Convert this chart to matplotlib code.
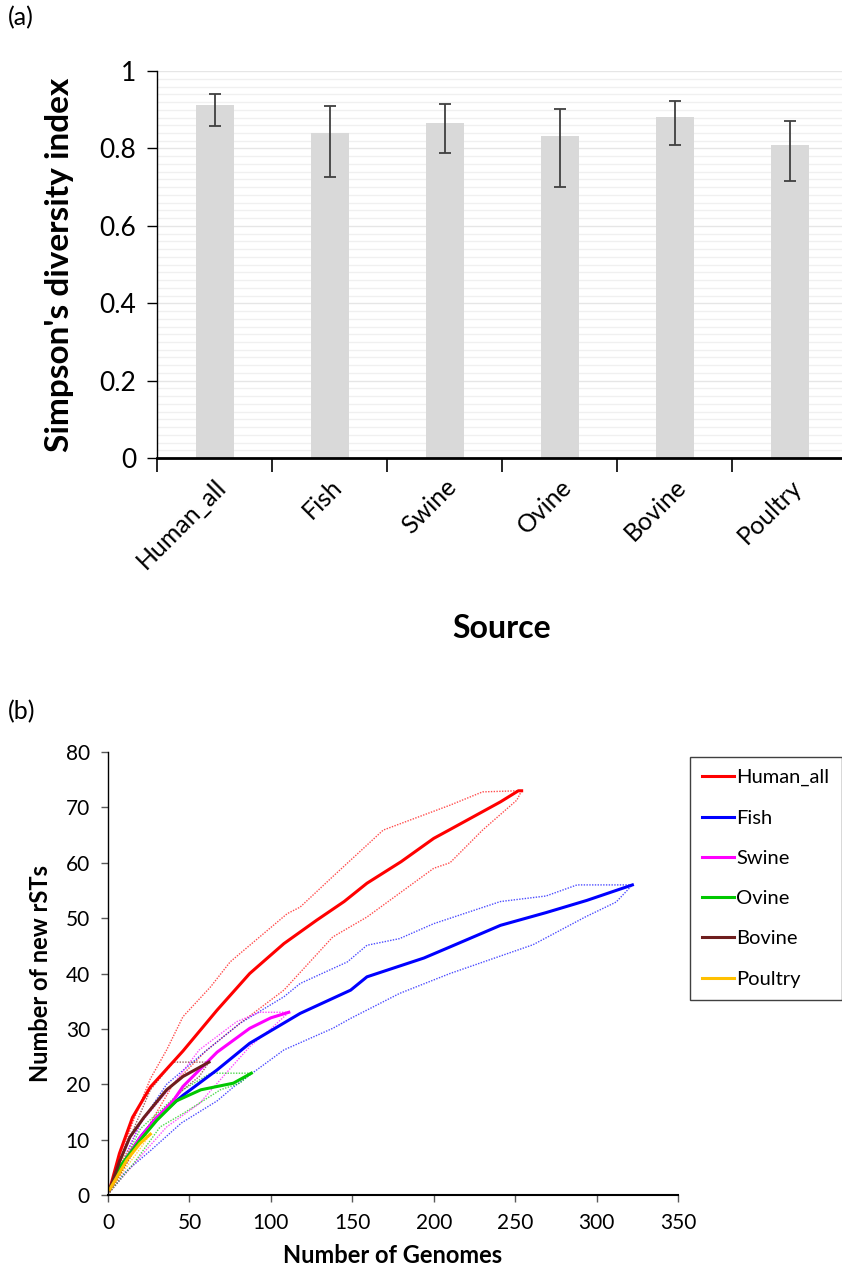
import matplotlib
matplotlib.use('Agg')
import matplotlib.pyplot as plt
from matplotlib.ticker import MultipleLocator
import matplotlib.transforms as mtransforms

plt.rcParams['font.family'] = ['Lato', 'DejaVu Sans']

# (a) Simpson's diversity index by source
sources = ['Human_all', 'Fish', 'Swine', 'Ovine', 'Bovine', 'Poultry']
simpson = [0.912, 0.840, 0.866, 0.833, 0.881, 0.810]
ci_low = [0.857, 0.727, 0.788, 0.700, 0.810, 0.717]
ci_high = [0.941, 0.909, 0.916, 0.903, 0.922, 0.871]

# (b) rarefaction curves: (x, y)
human_x = [1, 7, 15, 26, 46, 67, 87, 108, 128, 145, 159, 180, 200, 210, 241, 252, 254]
human_y = [1, 7.5, 14, 19.5, 26, 33.4, 40, 45.4, 49.6, 53, 56.3, 60.2, 64.4, 66, 71, 73, 73]
human_up_x = [1, 15, 26, 36, 46, 63, 75, 81, 110, 118, 138, 169, 210, 230, 252, 254]
human_up_y = [1, 13, 21, 26.2, 32.2, 37.6, 42.1, 43.6, 50.8, 52, 57.5, 65.9, 70.4, 72.8, 73, 73]
human_lo_x = [1, 20, 40, 60, 81, 108, 138, 159, 200, 210, 230, 251, 254]
human_lo_y = [0.5, 10, 20, 26, 31, 37, 46.6, 50.2, 59, 60, 65.9, 71.3, 73]

fish_x = [1, 10, 20, 30, 46, 67, 87, 118, 149, 159, 194, 210, 241, 269, 294, 322]
fish_y = [1, 6, 10.5, 14, 18, 22.6, 27.4, 32.8, 37, 39.4, 42.8, 44.8, 48.7, 51, 53.2, 56]
fish_up_x = [1, 20, 36, 60, 81, 108, 118, 147, 159, 179, 200, 241, 269, 288, 322]
fish_up_y = [1, 13, 20, 26, 31, 35.8, 38.2, 42.1, 45.1, 46.3, 49, 53, 54, 56, 56]
fish_lo_x = [1, 10, 26, 45, 67, 77, 108, 138, 149, 179, 210, 261, 293, 312, 322]
fish_lo_y = [0.5, 4, 8, 13, 17, 19.5, 26.2, 30.1, 31.9, 36.4, 40, 45.2, 50.2, 52.9, 56]

swine_x = [1, 10, 20, 30, 40, 46, 67, 87, 100, 111]
swine_y = [1, 6, 10.5, 14, 17, 19.6, 25.8, 30.1, 32, 33]
swine_up_x = [1, 20, 40, 56, 79, 93, 111]
swine_up_y = [1, 13, 20, 26.2, 31.3, 33, 33]
swine_lo_x = [1, 20, 36, 56, 77, 87, 100, 111]
swine_lo_y = [0.5, 7, 12.3, 16.5, 23.5, 26.8, 30, 33]

ovine_x = [1, 7, 20, 30, 42, 57, 77, 88]
ovine_y = [1, 5, 10, 13.5, 17, 19, 20.2, 22]
ovine_up_x = [1, 20, 46, 63, 88]
ovine_up_y = [1, 12, 19, 22, 22]
ovine_lo_x = [1, 16, 32, 46, 69, 81, 88]
ovine_lo_y = [0.5, 5.8, 12.3, 14.7, 19, 20.2, 22]

bovine_x = [1, 7, 13.5, 22, 36, 46, 62]
bovine_y = [1, 6, 10.5, 14, 19, 21.4, 24]
bovine_up_x = [1, 10, 26, 40, 62]
bovine_up_y = [1, 8, 19, 24, 24]
bovine_lo_x = [1, 14, 26, 46, 56, 62]
bovine_lo_y = [0.5, 7, 12.9, 19, 21.4, 24]

poultry_x = [1, 3, 11.5, 19.6, 26]
poultry_y = [1, 2, 6.3, 9.3, 11]
poultry_up_x = [1, 10, 20, 26]
poultry_up_y = [1, 7, 10.5, 11]
poultry_lo_x = [1, 10, 20, 26]
poultry_lo_y = [0.5, 4.5, 8.5, 11]

fig = plt.figure(figsize=(8.42, 12.69), dpi=100)

# ---------- panel (a) ----------
ax1 = fig.add_axes([0.1865, 0.639, 0.8195, 0.305])
pos = list(range(len(sources)))
err_lo = [s - l for s, l in zip(simpson, ci_low)]
err_hi = [h - s for s, h in zip(simpson, ci_high)]
ax1.bar(pos, simpson, width=0.33, color='#D9D9D9', zorder=2)
ax1.errorbar(pos, simpson, yerr=[err_lo, err_hi], fmt='none', ecolor='#404040',
             elinewidth=1.3, capsize=4, capthick=1.3, zorder=3)
ax1.set_ylim(0, 1)
ax1.set_xlim(-0.5, 5.5)
ax1.yaxis.set_major_locator(MultipleLocator(0.2))
ax1.yaxis.set_minor_locator(MultipleLocator(0.02))
ax1.grid(axis='y', which='major', color='#E6E6E6', linewidth=1, zorder=0)
ax1.grid(axis='y', which='minor', color='#F0F0F0', linewidth=1, zorder=0)
ax1.set_yticks([0, 0.2, 0.4, 0.6, 0.8, 1])
ax1.set_yticklabels(['0', '0.2', '0.4', '0.6', '0.8', '1'])
ax1.set_xticks([p - 0.5 for p in pos])
ax1.set_xticklabels([])
ax1.set_xticks(pos, minor=True)
ax1.set_xticklabels(sources, minor=True, rotation=45, ha='right', rotation_mode='anchor',
                    fontsize=18)
shift = mtransforms.ScaledTranslation(-14 / 100, 0, fig.dpi_scale_trans)
for lab in ax1.get_xticklabels(minor=True):
    lab.set_transform(lab.get_transform() + shift)
ax1.tick_params(axis='x', which='minor', length=0, pad=12)
ax1.tick_params(axis='x', which='major', length=10, width=1.2, direction='out')
ax1.tick_params(axis='y', which='major', length=7, width=1, labelsize=19, pad=8)
ax1.tick_params(axis='y', which='minor', length=0)
for s in ['top', 'right']:
    ax1.spines[s].set_visible(False)
ax1.spines['bottom'].set_linewidth(2)
ax1.spines['left'].set_linewidth(1)
ax1.set_ylabel("Simpson's diversity index", fontsize=24, fontweight='bold', labelpad=18)
ax1.set_xlabel('Source', fontsize=23, fontweight='bold', labelpad=30)
fig.text(0.009, 0.986, '(a)', fontsize=18, va='center')

# ---------- panel (b) ----------
ax2 = fig.add_axes([0.1283, 0.0583, 0.6769, 0.3491])
curves = [
    ('Human_all', '#FF0000', human_x, human_y, human_up_x, human_up_y, human_lo_x, human_lo_y),
    ('Fish', '#0000FF', fish_x, fish_y, fish_up_x, fish_up_y, fish_lo_x, fish_lo_y),
    ('Swine', '#FF00FF', swine_x, swine_y, swine_up_x, swine_up_y, swine_lo_x, swine_lo_y),
    ('Ovine', '#00C800', ovine_x, ovine_y, ovine_up_x, ovine_up_y, ovine_lo_x, ovine_lo_y),
    ('Bovine', '#6E1E1E', bovine_x, bovine_y, bovine_up_x, bovine_up_y, bovine_lo_x, bovine_lo_y),
    ('Poultry', '#FFC000', poultry_x, poultry_y, poultry_up_x, poultry_up_y, poultry_lo_x, poultry_lo_y),
]
for name, col, x, y, ux, uy, lx, ly in curves:
    ax2.plot(ux, uy, color=col, linestyle=(0, (1, 1)), linewidth=1.0, alpha=0.7)
    ax2.plot(lx, ly, color=col, linestyle=(0, (1, 1)), linewidth=1.0, alpha=0.7)
handles = []
for name, col, x, y, ux, uy, lx, ly in curves:
    h, = ax2.plot(x, y, color=col, linewidth=2.2, label=name)
    handles.append(h)

ax2.set_xlim(0, 350)
ax2.set_ylim(0, 80)
ax2.xaxis.set_major_locator(MultipleLocator(50))
ax2.yaxis.set_major_locator(MultipleLocator(10))
ax2.tick_params(axis='both', length=5, width=1, color='#595959', labelsize=15)
ax2.tick_params(axis='x', pad=8)
ax2.tick_params(axis='y', pad=8)
for s in ['top', 'right']:
    ax2.spines[s].set_visible(False)
ax2.spines['bottom'].set_linewidth(1.5)
ax2.spines['left'].set_linewidth(1)
ax2.set_xlabel('Number of Genomes', fontsize=17, fontweight='bold', labelpad=8)
ax2.set_ylabel('Number of new rSTs', fontsize=17, fontweight='bold', labelpad=10)
fig.text(0.009, 0.439, '(b)', fontsize=18, va='center')

leg = fig.legend(handles=handles, loc='upper left', bbox_to_anchor=(0.8195, 0.4035),
                 fontsize=14.5, frameon=True, fancybox=False, edgecolor='#404040',
                 framealpha=1, handlelength=1.6, handletextpad=0.1, labelspacing=1.15,
                 borderpad=0.6, borderaxespad=0)
leg.get_frame().set_linewidth(1)

plt.savefig('out.png', dpi=100)
